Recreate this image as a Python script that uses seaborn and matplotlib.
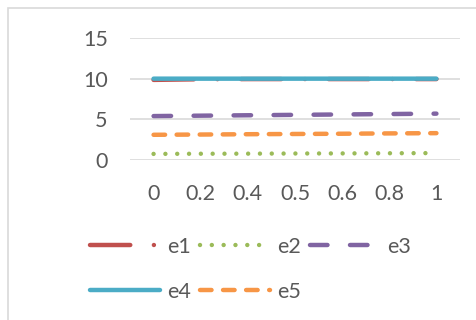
import matplotlib
matplotlib.use("Agg")
import matplotlib.pyplot as plt
from matplotlib.patches import Rectangle
import seaborn as sns

# Category axis and series values
x_labels = ["0", "0.2", "0.4", "0.5", "0.6", "0.8", "1"]
e1 = [9.85, 9.93, 9.95, 9.95, 9.95, 9.95, 9.95]
e2 = [0.75, 0.77, 0.78, 0.80, 0.81, 0.83, 0.85]
e3 = [5.40, 5.45, 5.50, 5.55, 5.60, 5.65, 5.70]
e4 = [10.0, 10.0, 10.0, 10.0, 10.0, 10.0, 10.0]
e5 = [3.10, 3.13, 3.17, 3.20, 3.23, 3.27, 3.30]
series_names = ["e1", "e2", "e3", "e4", "e5"]
y_ticks = [0, 5, 10, 15]

sns.set_theme(style="white")
plt.rcParams["font.family"] = ["Lato", "DejaVu Sans"]
plt.rcParams["lines.scale_dashes"] = False

text_color = "#595959"
grid_color = "#d9d9d9"
font_size = 15.5

styles = {
    "e1": dict(color="#c0504d", dashes=(29, 17, 0.01, 17), z=2),
    "e2": dict(color="#9bbb59", dashes=(0.01, 8.5), z=3),
    "e3": dict(color="#8064a2", dashes=(12.6, 16.2), z=3),
    "e4": dict(color="#4bacc6", dashes=None, z=4),
    "e5": dict(color="#f79646", dashes=(8.3, 8.3), z=3),
}
values = {"e1": e1, "e2": e2, "e3": e3, "e4": e4, "e5": e5}

fig = plt.figure(figsize=(4.76, 3.2), dpi=100)
fig.patch.set_facecolor("white")

# light chart-area border
fig.patches.append(Rectangle((8 / 476, -0.1), 1.2, 1 - 8 / 320 + 0.1,
                             transform=fig.transFigure, fill=False,
                             edgecolor=grid_color, linewidth=1.2, zorder=0))

ax = fig.add_axes([130 / 476, 0.5, 330 / 476, 1 - 38 / 320 - 0.5])

handles = {}
for name in series_names:
    st = styles[name]
    sns.lineplot(x=x_labels, y=values[name], ax=ax, color=st["color"],
                 linewidth=3.2, sort=False, label=name, legend=False,
                 zorder=st["z"])
    line = ax.lines[-1]
    line.set_solid_capstyle("round")
    line.set_dash_capstyle("round")
    line.set_snap(False)
    if st["dashes"] is not None:
        line.set_dashes(st["dashes"])
    handles[name] = line

ax.set_ylim(0, 15)
ax.set_xlim(-0.5, len(x_labels) - 0.5)
ax.set_yticks(y_ticks)
ax.set_yticklabels([str(v) for v in y_ticks])
ax.yaxis.grid(True, color=grid_color, linewidth=1.2)
ax.set_axisbelow(True)
ax.xaxis.grid(False)
for s in ax.spines.values():
    s.set_visible(False)
ax.tick_params(axis="y", length=0, pad=16, labelsize=font_size, labelcolor=text_color)
ax.tick_params(axis="x", length=0, pad=17, labelsize=font_size, labelcolor=text_color)
ax.set_xlabel("")
ax.set_ylabel("")

order = ["e1", "e4", "e2", "e5", "e3"]
fig.legend([handles[n] for n in order], order, ncol=3, frameon=False,
           loc="upper left", bbox_to_anchor=(90 / 476, 1 - 237 / 320),
           borderpad=0, borderaxespad=0, handlelength=3.25,
           handletextpad=0.35, columnspacing=0.4, labelspacing=1.15,
           fontsize=font_size, labelcolor=text_color)

fig.savefig("out.png", dpi=100, facecolor="white")
